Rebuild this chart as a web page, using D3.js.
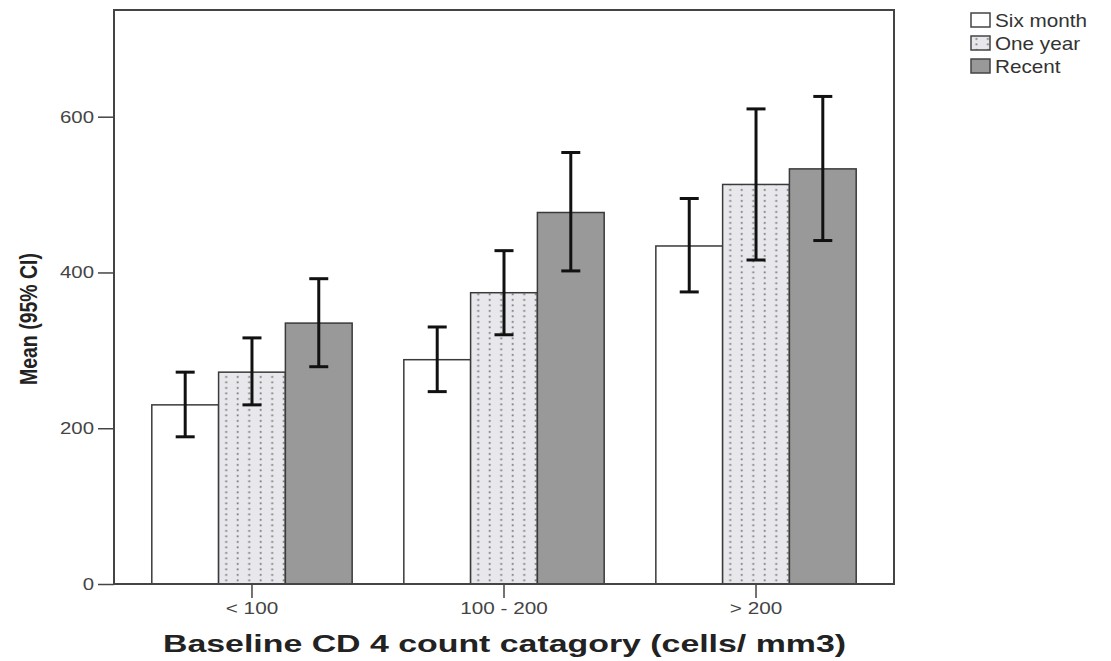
<!DOCTYPE html>
<html>
<head>
<meta charset="utf-8">
<script src="https://cdn.jsdelivr.net/npm/d3@7"></script>
<style>
  body { margin: 0; background: #fff; }
  text { font-family: "Liberation Sans", Arial, sans-serif; }
</style>
</head>
<body>
<svg id="chart"></svg>
<script>
"use strict";

var width = 1111,
    height = 661;

// data
var categories = ['< 100', '100 - 200', '> 200'];
var seriesNames = ['Six month', 'One year', 'Recent'];
var means = [
  [230, 272, 335],
  [288, 374, 477],
  [434, 513, 533]
];
var lower = [
  [189, 230, 279],
  [247, 320, 402],
  [375, 416, 441]
];
var upper = [
  [272, 316, 392],
  [330, 428, 554],
  [495, 610, 626]
];
var yTicks = [0, 200, 400, 600];

var plot = { left: 114, right: 894, top: 10, bottom: 584 };

var svg = d3.select('#chart').attr('width', width).attr('height', height);

var defs = svg.append('defs');
var pat = defs.append('pattern')
  .attr('id', 'dots')
  .attr('patternUnits', 'userSpaceOnUse')
  .attr('width', 11.5)
  .attr('height', 5.5);
pat.append('rect').attr('width', 11.5).attr('height', 5.5).attr('fill', '#e8e8ec');
pat.append('rect').attr('x', 4.5).attr('y', 2).attr('width', 1.8).attr('height', 1.8).attr('fill', '#7a7a7a');

var fills = ['#ffffff', 'url(#dots)', '#999999'];

var x0 = d3.scaleBand()
  .domain(categories)
  .range([plot.left, plot.right])
  .paddingInner(0.205)
  .paddingOuter(0.15);

var x1 = d3.scaleBand()
  .domain(seriesNames)
  .range([0, x0.bandwidth()]);

var y = d3.scaleLinear()
  .domain([0, 737])
  .range([plot.bottom, plot.top]);

// bars
var groups = svg.selectAll('.group')
  .data(categories)
  .enter().append('g')
  .attr('class', 'group')
  .attr('transform', function(d){ return 'translate(' + x0(d) + ',0)'; });

groups.each(function(cat, ci) {
  var g = d3.select(this);
  var rows = seriesNames.map(function(s, si) {
    return { s: s, si: si, m: means[ci][si], lo: lower[ci][si], hi: upper[ci][si] };
  });
  g.selectAll('rect')
    .data(rows)
    .enter().append('rect')
    .attr('x', function(d){ return x1(d.s); })
    .attr('y', function(d){ return y(d.m); })
    .attr('width', x1.bandwidth())
    .attr('height', function(d){ return y(0) - y(d.m); })
    .attr('fill', function(d){ return fills[d.si]; })
    .attr('stroke', '#3a3a3a')
    .attr('stroke-width', 1.5);

  var eb = g.selectAll('.err')
    .data(rows)
    .enter().append('g')
    .attr('class', 'err')
    .attr('stroke', '#111')
    .attr('stroke-width', 3);
  eb.append('line')
    .attr('x1', function(d){ return x1(d.s) + x1.bandwidth() / 2; })
    .attr('x2', function(d){ return x1(d.s) + x1.bandwidth() / 2; })
    .attr('y1', function(d){ return y(d.lo); })
    .attr('y2', function(d){ return y(d.hi); });
  [ 'lo', 'hi' ].forEach(function(k) {
    eb.append('line')
      .attr('x1', function(d){ return x1(d.s) + x1.bandwidth() / 2 - 9.5; })
      .attr('x2', function(d){ return x1(d.s) + x1.bandwidth() / 2 + 9.5; })
      .attr('y1', function(d){ return y(d[k]); })
      .attr('y2', function(d){ return y(d[k]); });
  });
});

// frame
svg.append('rect')
  .attr('x', plot.left)
  .attr('y', plot.top)
  .attr('width', plot.right - plot.left)
  .attr('height', plot.bottom - plot.top)
  .attr('fill', 'none')
  .attr('stroke', '#444')
  .attr('stroke-width', 2);

// y axis
var yAxis = d3.axisLeft(y).tickValues(yTicks).tickSize(16).tickPadding(5);
var yg = svg.append('g')
  .attr('transform', 'translate(' + plot.left + ',0)')
  .call(yAxis);
yg.select('.domain').remove();
yg.selectAll('line').attr('stroke', '#444').attr('stroke-width', 1.5);
yg.selectAll('text')
  .attr('x', 0)
  .attr('transform', 'translate(-20,0) scale(1.2,1)')
  .attr('font-size', 17)
  .attr('fill', '#444')
  .style('font-family', '"Liberation Sans", Arial, sans-serif');

// x axis
var xAxis = d3.axisBottom(x0).tickSize(14).tickPadding(4);
var xg = svg.append('g')
  .attr('transform', 'translate(0,' + plot.bottom + ')')
  .call(xAxis);
xg.select('.domain').remove();
xg.selectAll('line').attr('stroke', '#444').attr('stroke-width', 1.5);
xg.selectAll('text')
  .attr('transform', 'scale(1.22,1)')
  .attr('font-size', 17)
  .attr('fill', '#444')
  .style('font-family', '"Liberation Sans", Arial, sans-serif');

// axis titles
svg.append('text')
  .attr('transform', 'translate(37,319) rotate(-90)')
  .attr('text-anchor', 'middle')
  .attr('font-size', 23)
  .attr('font-weight', 'bold')
  .attr('fill', '#222')
  .attr('textLength', 132)
  .attr('lengthAdjust', 'spacingAndGlyphs')
  .text('Mean (95% CI)');

svg.append('text')
  .attr('x', 163)
  .attr('y', 652)
  .attr('textLength', 683)
  .attr('lengthAdjust', 'spacingAndGlyphs')
  .attr('font-size', 23)
  .attr('font-weight', 'bold')
  .attr('fill', '#222')
  .text('Baseline CD 4 count catagory (cells/ mm3)');

// legend
var legend = svg.append('g')
  .attr('transform', 'translate(971,13)');
var li = legend.selectAll('.item')
  .data(seriesNames)
  .enter().append('g')
  .attr('class', 'item')
  .attr('transform', function(d, i){ return 'translate(0,' + (i * 23) + ')'; });
li.append('rect')
  .attr('width', 19)
  .attr('height', 14)
  .attr('fill', function(d, i){ return fills[i]; })
  .attr('stroke', '#444')
  .attr('stroke-width', 1.5);
li.append('text')
  .attr('transform', 'translate(24,14) scale(1.15,1)')
  .attr('font-size', 18)
  .attr('fill', '#333')
  .text(function(d){ return d; });
</script>
</body>
</html>
